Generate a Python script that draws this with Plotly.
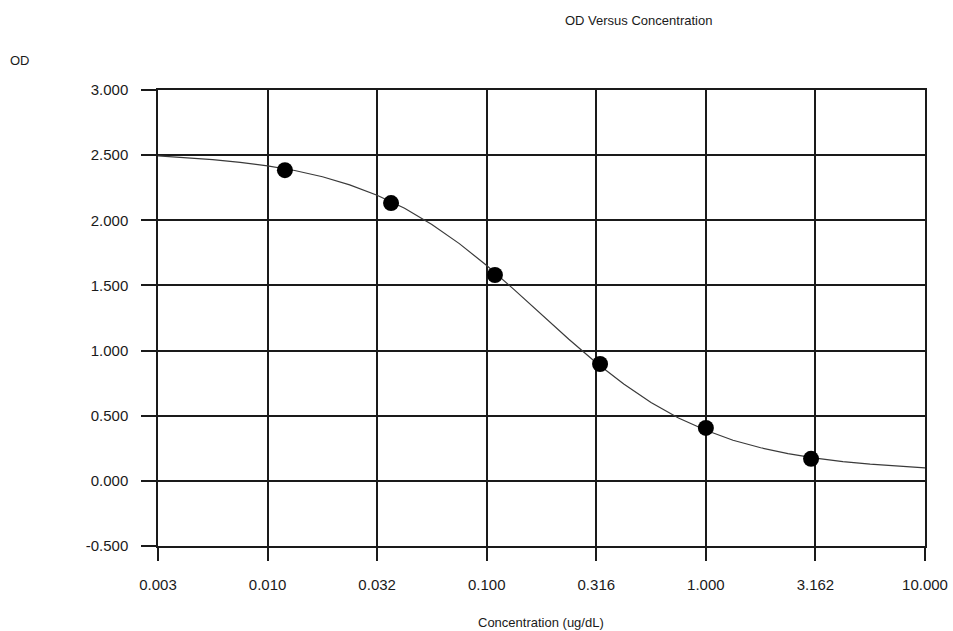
import plotly.graph_objects as go

# measured standard points
conc_points = [0.0120, 0.0366, 0.109, 0.329, 1.00, 3.02]
od_points = [2.385, 2.132, 1.580, 0.897, 0.406, 0.169]

# fitted curve
curve_conc = [0.00316, 0.00422, 0.00562, 0.0075, 0.01, 0.0133, 0.0178, 0.0237,
              0.0316, 0.0422, 0.0562, 0.075, 0.1, 0.133, 0.178, 0.237, 0.316,
              0.422, 0.562, 0.75, 1.0, 1.33, 1.78, 2.37, 3.16, 4.22, 5.62, 7.5, 10.0]
curve_od = [2.495, 2.482, 2.466, 2.445, 2.418, 2.382, 2.334, 2.272, 2.192, 2.092,
            1.968, 1.821, 1.653, 1.470, 1.278, 1.087, 0.906, 0.743, 0.601, 0.483,
            0.388, 0.312, 0.254, 0.209, 0.175, 0.148, 0.128, 0.112, 0.100]

x_tickvals = [0.0031623, 0.01, 0.031623, 0.1, 0.31623, 1.0, 3.1623, 10.0]
x_ticktext = ["0.003", "0.010", "0.032", "0.100", "0.316", "1.000", "3.162", "10.000"]
y_tickvals = [-0.5, 0.0, 0.5, 1.0, 1.5, 2.0, 2.5, 3.0]
y_ticktext = ["-0.500", "0.000", "0.500", "1.000", "1.500", "2.000", "2.500", "3.000"]

FONT = "Liberation Sans, Arial, sans-serif"
INK = "#1a1a1a"

W, H = 953, 631
L, R, T, B = 158, 28, 90, 85
pw, ph = W - L - R, H - T - B


def px(xp, yp):
    """page pixel -> paper coords"""
    return ((xp - L) / pw, 1 - (yp - T) / ph)


fig = go.Figure()
fig.add_trace(go.Scatter(x=curve_conc, y=curve_od, mode="lines",
                         line=dict(color="#3a3a3a", width=1.2), hoverinfo="skip"))
fig.add_trace(go.Scatter(x=conc_points, y=od_points, mode="markers",
                         marker=dict(color="#000000", size=16)))

anns = []
for text, xp, yp in [("OD Versus Concentration", 638, 20),
                     ("OD", 20, 61),
                     ("Concentration (ug/dL)", 541, 622)]:
    ax_, ay_ = px(xp, yp)
    anns.append(dict(text=text, x=ax_, y=ay_, xref="paper", yref="paper",
                     xanchor="center", yanchor="middle", showarrow=False,
                     font=dict(size=13, family=FONT, color=INK)))

fig.update_layout(
    width=W, height=H,
    margin=dict(l=L, r=R, t=T, b=B),
    paper_bgcolor="white", plot_bgcolor="white",
    showlegend=False,
    font=dict(family=FONT, size=13, color=INK),
    xaxis=dict(type="log", range=[-2.5, 1.0], tickvals=x_tickvals, ticktext=x_ticktext,
               automargin=False,
               showgrid=True, gridcolor=INK, gridwidth=1.5,
               showline=True, linecolor=INK, linewidth=1.5, mirror=True,
               ticks="outside", ticklen=13, tickwidth=1.5, tickcolor=INK,
               ticklabelstandoff=11,
               tickfont=dict(size=15, family=FONT, color=INK), zeroline=False),
    yaxis=dict(range=[-0.5, 3.0], tickvals=y_tickvals, ticktext=y_ticktext,
               automargin=False,
               showgrid=True, gridcolor=INK, gridwidth=1.5,
               showline=True, linecolor=INK, linewidth=1.5, mirror=True,
               ticks="outside", ticklen=15, tickwidth=1.5, tickcolor=INK,
               ticklabelstandoff=10,
               tickfont=dict(size=15, family=FONT, color=INK), zeroline=False),
    annotations=anns,
)

fig.write_html(
    "out.html",
    config={"displayModeBar": False},
    post_script="document.body.style.margin='0px';document.body.style.overflow='hidden';",
)
